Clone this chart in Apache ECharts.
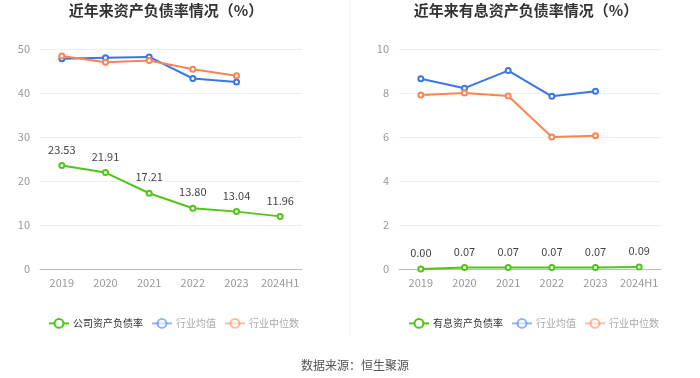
<!DOCTYPE html>
<html><head><meta charset="utf-8">
<script src="https://cdn.jsdelivr.net/npm/echarts@6/dist/echarts.min.js"></script>
<style>html,body{margin:0;padding:0;background:#fff}#c{width:700px;height:378px}</style>
</head><body><div id="c"></div>
<script>
const categories = ['2019','2020','2021','2022','2023','2024H1'];
const companyDebt = [23.53,21.91,17.21,13.80,13.04,11.96];
const industryAvgDebt = [47.8,48.0,48.2,43.3,42.5,null];
const industryMedDebt = [48.4,47.0,47.4,45.4,43.9,null];
const interestDebt = [0.00,0.07,0.07,0.07,0.07,0.09];
const industryAvgInt = [8.65,8.22,9.02,7.85,8.08,null];
const industryMedInt = [7.91,8.00,7.86,6.00,6.06,null];
const leftTicks = {min:0,max:50,interval:10};
const rightTicks = {min:0,max:10,interval:2};

const GREEN='#52c41a', BLUE='#3a76e6', ORANGE='#fc8452';
const font='"Noto Sans CJK SC", "Noto Sans", sans-serif';
function xAxis(i){return {type:'category',gridIndex:i,data:categories,boundaryGap:true,
  axisLine:{lineStyle:{color:'#b8bcc6'}},axisTick:{show:false},
  axisLabel:{color:'#999',fontSize:11,fontFamily:font,margin:8,interval:0}};}
function yAxis(i,t){return {type:'value',gridIndex:i,min:t.min,max:t.max,interval:t.interval,
  axisLine:{show:false},axisTick:{show:false},
  axisLabel:{color:'#999',fontSize:11,fontFamily:font,margin:10},
  splitLine:{lineStyle:{color:'#eceef4'}}};}
function line(name,data,color,i,label){return {name:name,type:'line',xAxisIndex:i,yAxisIndex:i,data:data,
  symbol:'emptyCircle',symbolSize:5,showSymbol:true,connectNulls:false,
  lineStyle:{color:color,width:2},itemStyle:{color:color,borderWidth:1.5},
  label:label?{show:true,position:'top',distance:7,color:'#444',fontSize:11,fontFamily:font,
    formatter:p=>p.value.toFixed(2)}:{show:false},z:label?3:2};}
function legendItems(first){return [
  {name:first,textStyle:{color:'#333'}},
  {name:'行业均值',textStyle:{color:'#aaa'},itemStyle:{opacity:0.55},lineStyle:{opacity:0.55}},
  {name:'行业中位数',textStyle:{color:'#aaa'},itemStyle:{opacity:0.55},lineStyle:{opacity:0.55}}];}
function legend(left,first){return {left:left,top:313,itemWidth:20,itemHeight:11,itemGap:8,
  textStyle:{fontSize:10,fontFamily:font,padding:[0,0,0,-1]},data:legendItems(first)};}
const chart=echarts.init(document.getElementById('c'),null,{renderer:'canvas'});
chart.setOption({
  animation:false,
  title:[
    {text:'近年来资产负债率情况（%）',left:166,top:3,padding:0,textAlign:'center',textStyle:{fontSize:15,fontWeight:'bold',color:'#333',fontFamily:font}},
    {text:'近年来有息资产负债率情况（%）',left:526,top:3,padding:0,textAlign:'center',textStyle:{fontSize:15,fontWeight:'bold',color:'#333',fontFamily:font}},
    {text:'数据来源：恒生聚源',left:350,top:354,textAlign:'center',textStyle:{fontSize:12,fontWeight:'normal',color:'#555',fontFamily:font}}
  ],
  grid:[{left:40,top:49,width:262,height:220},{left:399,top:49,width:262,height:220}],
  legend:[legend(43,'公司资产负债率'),legend(403,'有息资产负债率')],
  xAxis:[xAxis(0),xAxis(1)],
  yAxis:[yAxis(0,leftTicks),yAxis(1,rightTicks)],
  series:[
    line('公司资产负债率',companyDebt,GREEN,0,true),
    line('行业均值',industryAvgDebt,BLUE,0,false),
    line('行业中位数',industryMedDebt,ORANGE,0,false),
    line('有息资产负债率',interestDebt,GREEN,1,true),
    line('行业均值',industryAvgInt,BLUE,1,false),
    line('行业中位数',industryMedInt,ORANGE,1,false)
  ],
  graphic:[{type:'line',shape:{x1:350,y1:0,x2:350,y2:335},style:{stroke:'#eeeeee',lineWidth:1},silent:true}]
});
</script></body></html>
